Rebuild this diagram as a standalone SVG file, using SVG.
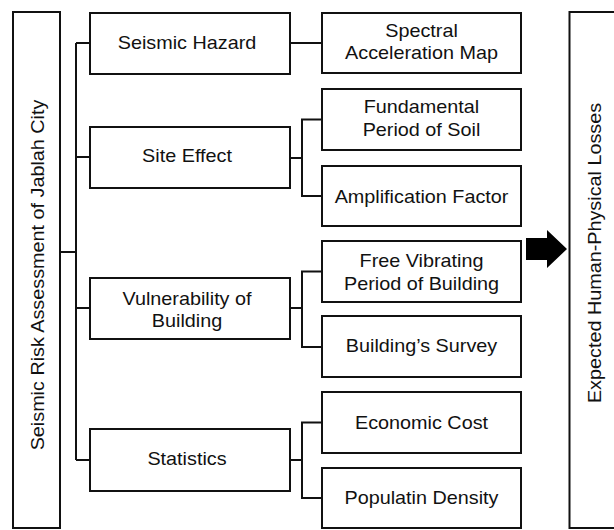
<svg xmlns="http://www.w3.org/2000/svg" width="614" height="530" viewBox="0 0 614 530">
<style>
  .box { fill: #fff; stroke: #111; stroke-width: 2; }
  .conn { fill: none; stroke: #111; stroke-width: 2; }
  .t { font-family: "Liberation Sans", Arial, sans-serif; font-size: 18px; fill: #111; text-anchor: middle; }
</style>
<rect width="614" height="530" fill="#fff"/>
<g id="connectors">
  <path class="conn" d="M60,252 H76 M76,43 V460 M76,43 H90 M76,157 H90 M76,308 H90 M76,460 H90"/>
  <path class="conn" d="M290,43 H322"/>
  <path class="conn" d="M290,158 H302 M322,119.5 H302 V196 H322"/>
  <path class="conn" d="M290,308 H302 M322,271.5 H302 V347 H322"/>
  <path class="conn" d="M290,460 H302 M322,422.5 H302 V498 H322"/>
  <polygon points="526,238 547,238 547,230 567,249 547,268 547,260 526,260" fill="#000"/>
</g>
<g id="root">
  <rect class="box" x="13" y="12" width="47" height="516"/>
  <text class="t" transform="translate(43.5,275) rotate(-90) scale(1.1,1)">Seismic Risk Assessment of Jablah City</text>
</g>
<g id="seismic-hazard">
  <rect class="box" x="90" y="13" width="200" height="61"/>
  <text class="t" transform="translate(187,48.5) scale(1.1,1)">Seismic Hazard</text>
</g>
<g id="site-effect">
  <rect class="box" x="90" y="127" width="200" height="61"/>
  <text class="t" transform="translate(187,162) scale(1.1,1)">Site Effect</text>
</g>
<g id="vulnerability">
  <rect class="box" x="90" y="278" width="200" height="61"/>
  <text class="t" transform="translate(187,305) scale(1.1,1)">Vulnerability of</text>
  <text class="t" transform="translate(187,327) scale(1.1,1)">Building</text>
</g>
<g id="statistics">
  <rect class="box" x="90" y="429" width="200" height="62"/>
  <text class="t" transform="translate(187,465) scale(1.1,1)">Statistics</text>
</g>
<g id="spectral">
  <rect class="box" x="322" y="13" width="199" height="60"/>
  <text class="t" transform="translate(421.5,37) scale(1.1,1)">Spectral</text>
  <text class="t" transform="translate(421.5,59) scale(1.1,1)">Acceleration Map</text>
</g>
<g id="fundamental">
  <rect class="box" x="322" y="89" width="199" height="61"/>
  <text class="t" transform="translate(421.5,113) scale(1.1,1)">Fundamental</text>
  <text class="t" transform="translate(421.5,136) scale(1.1,1)">Period of Soil</text>
</g>
<g id="amplification">
  <rect class="box" x="322" y="166" width="199" height="60"/>
  <text class="t" transform="translate(421.5,203) scale(1.1,1)">Amplification Factor</text>
</g>
<g id="free-vibrating">
  <rect class="box" x="322" y="241" width="199" height="61"/>
  <text class="t" transform="translate(421.5,267) scale(1.1,1)">Free Vibrating</text>
  <text class="t" transform="translate(421.5,290) scale(1.1,1)">Period of Building</text>
</g>
<g id="survey">
  <rect class="box" x="322" y="316" width="199" height="61"/>
  <text class="t" transform="translate(421.5,352) scale(1.1,1)">Building’s Survey</text>
</g>
<g id="economic">
  <rect class="box" x="322" y="392" width="199" height="61"/>
  <text class="t" transform="translate(421.5,429) scale(1.1,1)">Economic Cost</text>
</g>
<g id="population">
  <rect class="box" x="322" y="468" width="199" height="60"/>
  <text class="t" transform="translate(421.5,504) scale(1.1,1)">Populatin Density</text>
</g>
<g id="losses">
  <rect class="box" x="569.5" y="12" width="60" height="516"/>
  <text class="t" transform="translate(601,253) rotate(-90) scale(1.1,1)">Expected Human-Physical Losses</text>
</g>
</svg>
